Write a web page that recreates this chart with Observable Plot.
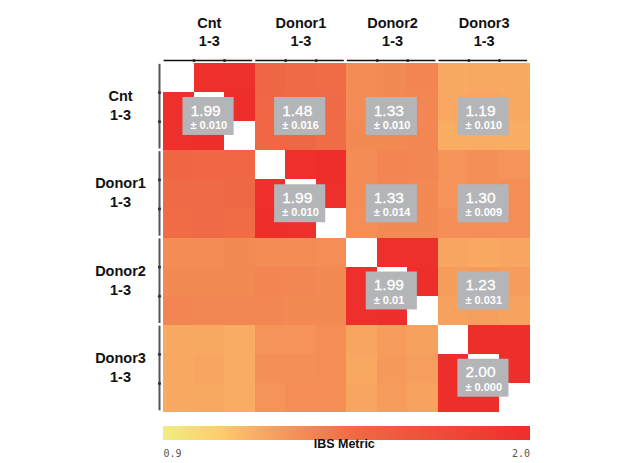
<!DOCTYPE html>
<html><head><meta charset="utf-8">
<script src="https://cdn.jsdelivr.net/npm/d3@7"></script>
<script src="https://cdn.jsdelivr.net/npm/@observablehq/plot@0.6"></script>
<style>
html,body{margin:0;padding:0;background:#fff;}
#chart svg{display:block;}
</style></head><body><div id="chart"></div>
<script>
// ---- data ----
const groups = ["Cnt", "Donor1", "Donor2", "Donor3"];
const replicateLabel = "1-3";
const replicates = 3;
// pairwise IBS metric (12 samples, diagonal = self comparison, not drawn)
const ibs = [
  [null, 1.99, 1.98, 1.50, 1.47, 1.46, 1.32, 1.33, 1.35, 1.19, 1.20, 1.19],
  [1.99, null, 2.00, 1.49, 1.47, 1.47, 1.32, 1.33, 1.34, 1.20, 1.21, 1.20],
  [1.98, 2.00, null, 1.49, 1.48, 1.46, 1.33, 1.33, 1.34, 1.18, 1.18, 1.18],
  [1.50, 1.49, 1.49, null, 1.99, 2.00, 1.32, 1.35, 1.34, 1.29, 1.30, 1.29],
  [1.47, 1.47, 1.48, 1.99, null, 1.98, 1.32, 1.34, 1.33, 1.29, 1.30, 1.31],
  [1.46, 1.47, 1.46, 2.00, 1.98, null, 1.31, 1.33, 1.33, 1.31, 1.31, 1.31],
  [1.32, 1.32, 1.33, 1.32, 1.32, 1.31, null, 1.99, 1.98, 1.21, 1.20, 1.21],
  [1.33, 1.33, 1.33, 1.35, 1.34, 1.33, 1.99, null, 2.00, 1.25, 1.26, 1.25],
  [1.35, 1.34, 1.34, 1.34, 1.33, 1.33, 1.98, 2.00, null, 1.23, 1.24, 1.22],
  [1.19, 1.20, 1.18, 1.29, 1.29, 1.31, 1.21, 1.25, 1.23, null, 2.00, 2.00],
  [1.20, 1.21, 1.18, 1.30, 1.30, 1.31, 1.20, 1.26, 1.24, 2.00, null, 2.00],
  [1.19, 1.20, 1.18, 1.29, 1.31, 1.31, 1.21, 1.25, 1.22, 2.00, 2.00, null]
];
// block summary boxes
const statRowGroup = [0, 0, 0, 0, 1, 1, 1, 2, 2, 3];
const statColGroup = [0, 1, 2, 3, 1, 2, 3, 2, 3, 3];
const statMean = ["1.99", "1.48", "1.33", "1.19", "1.99", "1.33", "1.30", "1.99", "1.23", "2.00"];
const statSd = ["0.010", "0.016", "0.010", "0.010", "0.010", "0.014", "0.009", "0.01", "0.031", "0.000"];
const colorDomain = [0.9, 2.0];
const legendTitle = "IBS Metric";

// ---- derived tables ----
const n = groups.length * replicates;
const colorOpts = {
  type: "linear",
  domain: [0.9, 1.07, 1.19, 1.31, 1.48, 2.0],
  range: ["#f1ed82", "#fccd6c", "#f8aa62", "#f48e56", "#ef6845", "#ee2e2b"],
  interpolate: "rgb",
  clamp: true
};
const cells = ibs.flatMap((row, r) => row.map((v, c) => ({r, c, v}))).filter(d => d.v != null);
const blocks = groups.map((g, i) => ({g, start: i * replicates, end: (i + 1) * replicates, mid: i * replicates + replicates / 2}));
const innerTicks = groups.flatMap((g, i) => d3.range(1, replicates).map(k => i * replicates + k));
const stats = statMean.map((m, i) => ({rg: statRowGroup[i], cg: statColGroup[i], mean: m, sd: statSd[i]}));
const font = "'Liberation Sans', Arial, sans-serif";

const main = Plot.plot({
  width: 641, height: 418,
  marginTop: 63, marginBottom: 6, marginLeft: 163, marginRight: 111.5,
  x: {domain: [0, n], axis: null},
  y: {domain: [0, n], reverse: true, axis: null},
  color: colorOpts,
  style: {fontFamily: font, background: "white", overflow: "visible"},
  marks: [
    Plot.rect(cells, {x1: "c", x2: d => d.c + 1, y1: "r", y2: d => d.r + 1, fill: "v", shapeRendering: "crispEdges"}),
    // top axis
    Plot.ruleY(blocks, {y: () => 0, x1: d => d.start + 0.02, x2: d => d.end - 0.08, dy: -3, stroke: "#111", strokeWidth: 1.4}),
    Plot.dot(innerTicks, {x: d => d, y: () => 0, dy: -3, r: 1.6, fill: "#222", stroke: "none"}),
    // left axis
    Plot.ruleX(blocks, {x: () => 0, y1: d => d.start + 0.03, y2: d => d.end - 0.06, dx: -4, stroke: "#555", strokeWidth: 2}),
    Plot.dot(innerTicks, {x: () => 0, y: d => d, dx: -4, r: 1.6, fill: "#333", stroke: "none"}),
    // group labels
    Plot.text(blocks, {x: "mid", y: () => 0, text: d => d.g + "\n" + replicateLabel, dy: -32.5,
      fontSize: 14.5, fontWeight: "bold", lineHeight: 1.3, fill: "#111"}),
    Plot.text(blocks, {x: () => 0, y: "mid", text: d => d.g + "\n" + replicateLabel, dx: -43, dy: -2.5,
      fontSize: 14.5, fontWeight: "bold", lineHeight: 1.3, fill: "#111"}),
    // summary boxes
    Plot.rect(stats, {x1: d => d.cg * replicates, x2: d => (d.cg + 1) * replicates,
      y1: d => d.rg * replicates, y2: d => (d.rg + 1) * replicates,
      insetLeft: 19.5, insetRight: 21, insetTop: 34, insetBottom: 15.3, fill: "#b4b5b8"}),
    Plot.text(stats, {x: d => d.cg * replicates, y: d => d.rg * replicates + replicates / 2, text: "mean",
      textAnchor: "start", dx: 27, dy: 3.5, fontSize: 15.5, fill: "white", stroke: "white", strokeWidth: 0.3}),
    Plot.text(stats, {x: d => d.cg * replicates, y: d => d.rg * replicates + replicates / 2, text: d => "\u00b1 " + d.sd,
      textAnchor: "start", dx: 27, dy: 18.5, fontSize: 11, fontWeight: "bold", fill: "white"})
  ]
});

// colour bar
const rampN = 300;
const rampStep = (colorDomain[1] - colorDomain[0]) / rampN;
const ramp = d3.range(rampN).map(i => colorDomain[0] + i * rampStep);
const legend = Plot.plot({
  width: 641, height: 45,
  marginTop: 8, marginBottom: 23, marginLeft: 163, marginRight: 111.5,
  x: {domain: colorDomain, axis: null},
  y: {domain: [0, 1], axis: null},
  color: colorOpts,
  style: {fontFamily: font, background: "white", overflow: "visible"},
  marks: [
    Plot.rect(ramp, {x1: d => d, x2: d => d + rampStep * 1.5, y1: () => 0, y2: () => 1, fill: d => d + rampStep / 2, shapeRendering: "crispEdges"}),
    Plot.text([colorDomain[0]], {x: d => d, y: () => 0, text: d => d.toFixed(1), textAnchor: "start", dy: 13,
      fontFamily: "'DejaVu Sans Mono', monospace", fontSize: 10, fill: "#555"}),
    Plot.text([colorDomain[1]], {x: d => d, y: () => 0, text: d => d.toFixed(1), textAnchor: "end", dy: 13,
      fontFamily: "'DejaVu Sans Mono', monospace", fontSize: 10, fill: "#555"}),
    Plot.text([legendTitle], {x: () => (colorDomain[0] + colorDomain[1]) / 2, y: () => 0, text: d => d, dx: -2.5, dy: 3,
      fontSize: 12.5, fontWeight: "bold", fill: "#111"})
  ]
});

const root = document.getElementById("chart");
root.appendChild(main);
root.appendChild(legend);
</script>
</body></html>
